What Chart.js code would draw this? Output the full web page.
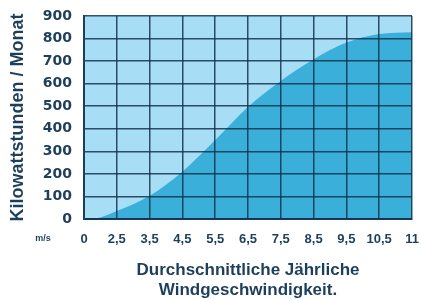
<!DOCTYPE html>
<html>
<head>
<meta charset="utf-8">
<script src="https://cdn.jsdelivr.net/npm/chart.js@4/dist/chart.umd.min.js"></script>
<style>
  html, body { margin: 0; padding: 0; background: #fff; }
  #wrap { width: 421px; height: 300px; }
</style>
</head>
<body>
<div id="wrap"><canvas id="windChart" width="421" height="300"></canvas></div>
<script>
// -- Data ----------------------------------------------------------------
const tickLabels = ["0", "2,5", "3,5", "4,5", "5,5", "6,5", "7,5", "8,5", "9,5", "10,5", "11"];
// position along the axis (tick index) and kWh per month
const curveX = [0, 0.5, 1, 2, 3, 4, 5, 6, 7, 8, 9, 10];
const curveY = [0, 7, 35, 103, 210, 350, 497, 612, 708, 782, 820, 828];

const NAVY = "#1d3f5b";
const LIGHT = "#a7def6";
const DARK = "#3aafd9";
const GRID = "rgba(20,50,75,0.85)";
const FONT = "'Liberation Sans', Arial, sans-serif";

// Light blue plot background + the small "m/s" unit label
const plotBg = {
  id: "plotBg",
  beforeDatasetsDraw(chart) {
    const { ctx, chartArea: a } = chart;
    ctx.save();
    ctx.fillStyle = LIGHT;
    ctx.fillRect(a.left, a.top, a.right - a.left, a.bottom - a.top);
    ctx.restore();
  },
  afterDraw(chart) {
    const { ctx } = chart;
    ctx.save();
    ctx.fillStyle = NAVY;
    ctx.font = "bold 9px " + FONT;
    ctx.textAlign = "center";
    ctx.textBaseline = "middle";
    ctx.fillText("m/s", 43, 239);
    ctx.restore();
  },
};

new Chart(document.getElementById("windChart"), {
  type: "line",
  data: {
    datasets: [{
      data: curveX.map((x, i) => ({ x, y: curveY[i] })),
      fill: "origin",
      backgroundColor: DARK,
      borderWidth: 0,
      pointRadius: 0,
      cubicInterpolationMode: "monotone",
    }],
  },
  options: {
    animation: false,
    responsive: false,
    layout: { padding: { top: 16, right: 9, left: 0, bottom: 0 } },
    plugins: { legend: { display: false }, tooltip: { enabled: false } },
    scales: {
      x: {
        type: "linear",
        min: 0,
        max: 10,
        z: 1,
        afterFit: (s) => {
          s.height = 81;
          s.paddingLeft = 0;
          s.paddingRight = 0;
        },
        grid: { color: GRID, lineWidth: 1.5, drawTicks: false, z: 1 },
        border: { color: NAVY, width: 2, z: 1 },
        ticks: {
          stepSize: 1,
          autoSkip: false,
          maxRotation: 0,
          padding: 13,
          color: NAVY,
          font: { family: FONT, size: 13, weight: "bold" },
          callback: (v) => tickLabels[v],
        },
        title: {
          display: true,
          text: ["Durchschnittliche Jährliche", "Windgeschwindigkeit."],
          color: NAVY,
          padding: { top: 0, bottom: 0 },
          font: { family: FONT, size: 17, weight: "bold", lineHeight: "20px" },
        },
      },
      y: {
        min: 0,
        max: 900,
        z: 1,
        afterFit: (s) => {
          s.width = 84;
          s.paddingTop = 0;
          s.paddingBottom = 0;
        },
        grid: { color: GRID, lineWidth: 1.5, drawTicks: false, z: 1 },
        border: { color: NAVY, width: 2, z: 1 },
        ticks: {
          stepSize: 100,
          padding: 12,
          color: NAVY,
          font: { family: "'DejaVu Sans', sans-serif", size: 14, weight: "bold" },
        },
        title: {
          display: true,
          text: "Kilowattstunden / Monat",
          color: NAVY,
          padding: { top: 7, bottom: 0 },
          font: { family: FONT, size: 18, weight: "bold" },
        },
      },
    },
  },
  plugins: [plotBg],
});
</script>
</body>
</html>
